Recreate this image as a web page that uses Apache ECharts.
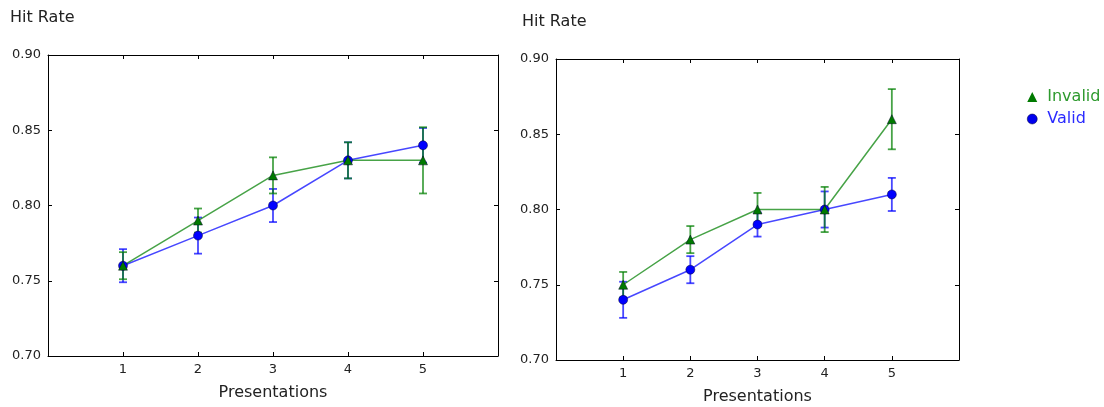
<!DOCTYPE html>
<html>
<head>
<meta charset="utf-8">
<script src="https://cdn.jsdelivr.net/npm/echarts@6/dist/echarts.min.js"></script>
<style>
  html, body { margin: 0; padding: 0; background: #fff; }
  #chart { width: 1104px; height: 407px; }
</style>
</head>
<body>
<div id="chart"></div>
<script>
// presentations (x values)
const presentations = [1, 2, 3, 4, 5];
const yTicks = [0.70, 0.75, 0.80, 0.85, 0.90];

// left panel
const leftValid = [0.76, 0.78, 0.80, 0.83, 0.84];
const leftValidErr = [0.011, 0.012, 0.011, 0.012, 0.0115];
const leftInvalid = [0.76, 0.79, 0.82, 0.83, 0.83];
const leftInvalidErr = [0.009, 0.008, 0.012, 0.012, 0.022];

// right panel
const rightValid = [0.74, 0.76, 0.79, 0.80, 0.81];
const rightValidErr = [0.012, 0.009, 0.008, 0.012, 0.011];
const rightInvalid = [0.75, 0.78, 0.80, 0.80, 0.86];
const rightInvalidErr = [0.0085, 0.009, 0.011, 0.015, 0.020];

const FONT = 'DejaVu Sans';
const greenLine = 'rgba(0,128,0,0.72)';
const blueLine = 'rgba(0,0,255,0.72)';

let chart = echarts.init(document.getElementById('chart'));

function pts(vals) {
  return presentations.map((x, i) => [x, vals[i]]);
}
function errPts(vals, errs) {
  return presentations.map((x, i) => [x, vals[i], errs[i]]);
}

// 误差线
function errorSeries(vals, errs, color, ax) {
  return {
    type: 'custom',
    xAxisIndex: ax.x, yAxisIndex: ax.y,
    silent: true,
    z: 1,
    encode: { x: 0, y: 1 },
    data: errPts(vals, errs),
    renderItem: function (params, api) {
      const x = api.value(0), y = api.value(1), e = api.value(2);
      const top = api.coord([x, y + e]);
      const bot = api.coord([x, y - e]);
      const st = { stroke: color, lineWidth: 1.8 };
      return {
        type: 'group',
        children: [
          { type: 'line', shape: { x1: top[0], y1: top[1], x2: bot[0], y2: bot[1] }, style: st },
          { type: 'line', shape: { x1: top[0] - 4, y1: top[1], x2: top[0] + 4, y2: top[1] }, style: st },
          { type: 'line', shape: { x1: bot[0] - 4, y1: bot[1], x2: bot[0] + 4, y2: bot[1] }, style: st }
        ]
      };
    }
  };
}

function lineSeries(name, vals, lineColor, fill, symbol, size, ax) {
  return {
    name: name,
    type: 'line',
    xAxisIndex: ax.x, yAxisIndex: ax.y,
    z: 3,
    data: pts(vals),
    symbol: symbol,
    symbolSize: size,
    showAllSymbol: true,
    animation: false,
    lineStyle: { color: lineColor, width: 1.5 },
    itemStyle: { color: fill, borderColor: 'rgba(0,0,40,0.8)', borderWidth: 0.6 }
  };
}

function xAxes(grid) {
  const base = {
    type: 'value', gridIndex: grid, min: 0, max: 6, interval: 1,
    axisLine: { show: true, onZero: false, lineStyle: { color: '#000', width: 1 } },
    axisTick: { show: true, inside: true, length: 4, lineStyle: { color: '#000' } },
    splitLine: { show: false }
  };
  return [
    Object.assign({}, base, {
      position: 'bottom',
      name: 'Presentations',
      nameLocation: 'middle',
      nameGap: 29,
      nameTextStyle: { fontFamily: FONT, fontSize: 16, color: '#222' },
      axisLabel: {
        fontFamily: FONT, fontSize: 13, color: '#222', margin: 7,
        formatter: v => presentations.indexOf(v) >= 0 ? String(v) : ''
      }
    }),
    Object.assign({}, base, { position: 'top', axisLabel: { show: false } })
  ];
}

function yAxes(grid) {
  const base = {
    type: 'value', gridIndex: grid, min: yTicks[0], max: yTicks[yTicks.length - 1], interval: 0.05,
    axisLine: { show: true, onZero: false, lineStyle: { color: '#000', width: 1 } },
    axisTick: { show: true, inside: true, length: 4, lineStyle: { color: '#000' } },
    splitLine: { show: false }
  };
  return [
    Object.assign({}, base, {
      position: 'left',
      axisLabel: { fontFamily: FONT, fontSize: 13, color: '#222', margin: 7, formatter: v => v.toFixed(2) }
    }),
    Object.assign({}, base, { position: 'right', axisLabel: { show: false } })
  ];
}

const L = { x: 0, y: 0 };
const R = { x: 2, y: 2 };

chart.setOption({
  animation: false,
  grid: [
    { left: 48, top: 55, width: 450, height: 301, outerBoundsMode: 'none', containLabel: false },
    { left: 556, top: 59, width: 403, height: 301, outerBoundsMode: 'none', containLabel: false }
  ],
  xAxis: xAxes(0).concat(xAxes(1)),
  yAxis: yAxes(0).concat(yAxes(1)),
  legend: {
    orient: 'vertical',
    left: 1022, top: 84,
    itemWidth: 10, itemHeight: 10, itemGap: 6,
    selectedMode: false,
    textStyle: { fontFamily: FONT, fontSize: 16, padding: [0, 0, 0, 5] },
    data: [
      { name: 'Invalid', icon: 'triangle', itemStyle: { color: '#007a00', borderWidth: 0 }, textStyle: { color: '#2e9a2e' } },
      { name: 'Valid', icon: 'circle', itemStyle: { color: '#0000ee', borderColor: '#000033', borderWidth: 0.5 }, textStyle: { color: '#2b2bff' } }
    ]
  },
  graphic: [
    { type: 'text', left: 10, top: 10, style: { text: 'Hit Rate', font: '16px "DejaVu Sans"', fill: '#222' } },
    { type: 'text', left: 522, top: 14, style: { text: 'Hit Rate', font: '16px "DejaVu Sans"', fill: '#222' } }
  ],
  series: [
    errorSeries(leftValid, leftValidErr, blueLine, L),
    errorSeries(leftInvalid, leftInvalidErr, greenLine, L),
    lineSeries('Valid', leftValid, blueLine, '#0000ff', 'circle', 9, L),
    lineSeries('Invalid', leftInvalid, greenLine, '#007a00', 'triangle', 9, L),

    errorSeries(rightValid, rightValidErr, blueLine, R),
    errorSeries(rightInvalid, rightInvalidErr, greenLine, R),
    lineSeries('Valid', rightValid, blueLine, '#0000ff', 'circle', 9, R),
    lineSeries('Invalid', rightInvalid, greenLine, '#007a00', 'triangle', 9, R)
  ]
});
</script>
</body>
</html>
